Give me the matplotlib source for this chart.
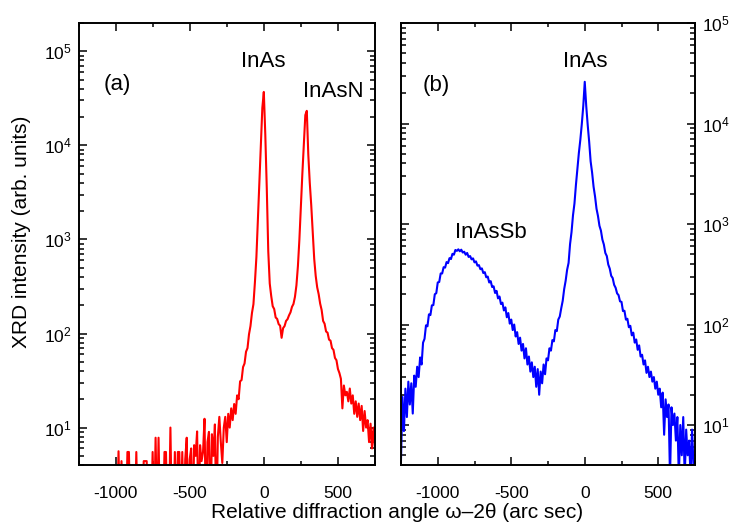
import numpy as np
import matplotlib
matplotlib.use("Agg")
import matplotlib.pyplot as plt
from matplotlib.ticker import MultipleLocator, LogLocator, NullFormatter, LogFormatterSciNotation

plt.rcParams['font.family'] = ['Liberation Sans', 'DejaVu Sans']
plt.rcParams['mathtext.fontset'] = 'custom'
plt.rcParams['mathtext.rm'] = 'Liberation Sans'

# scan positions (arc sec), common to both scans
angle = np.arange(-1250, 751, 10)

# (a) InAs / InAsN scan, intensity in counts (values below 4 fall off the axis)
intensity_a = [
    1, 1, 1, 1, 1, 1, 1, 1, 1, 1,
    1, 1, 1, 1, 1, 1, 1, 1, 1, 1,
    1, 1, 1, 1, 1, 1, 1, 5.6, 1, 4.4,
    1, 1, 1, 5.5, 5.5, 1, 1, 1, 1, 5.5,
    1, 1, 1, 1, 4.4, 4.4, 4.4, 1, 1, 1,
    5.5, 1, 7.8, 1, 7.8, 1, 1, 1, 5.5, 5.5,
    1, 1, 10, 1, 1, 5.5, 1, 5.5, 5.5, 1,
    5.5, 1, 4.6, 7.8, 1, 4.6, 6.0, 1, 6.5, 5.0,
    9.1, 1, 6.5, 4.4, 5.5, 12.4, 1, 7.0, 9.0, 1,
    8.5, 5.0, 10.8, 1, 8.0, 13, 7.0, 4.2, 10, 13,
    7, 14, 10, 16, 12, 17.8, 14, 22, 20, 31,
    32, 44, 48, 64, 70, 98, 120, 165, 205, 350,
    650, 1600, 3800, 10000, 25000, 37000, 13000, 3500, 750, 340,
    250, 195, 182, 148, 143, 126, 121, 90, 114, 120,
    136, 142, 156, 168, 192, 206, 245, 325, 520, 1000,
    2200, 5000, 10000, 21000, 23300, 8000, 4000, 2300, 1200, 620,
    410, 310, 262, 208, 178, 136, 127, 105, 102, 86,
    84, 70, 67, 55, 52, 42, 38, 33, 16, 28,
    22, 24, 19, 26, 18, 22, 14, 19, 13, 18,
    12, 17, 9.2, 15, 10, 12, 7, 11, 6, 10,
    6.2,
]

# (b) InAs / InAsSb scan
intensity_b = [
    4.5, 19, 8.7, 23, 12, 27, 16, 26, 13, 31,
    24, 38, 30, 47, 40, 66, 72, 98, 96, 126,
    124, 155, 156, 200, 205, 262, 265, 322, 322, 372,
    368, 418, 408, 458, 448, 505, 495, 552, 540, 560,
    535, 555, 520, 530, 495, 515, 470, 480, 445, 455,
    415, 425, 385, 390, 355, 362, 325, 332, 295, 300,
    262, 270, 236, 240, 206, 216, 182, 190, 160, 165,
    138, 148, 118, 130, 102, 112, 88, 100, 76, 84,
    64, 74, 55, 64, 46, 58, 40, 48, 34, 42,
    30, 38, 24, 36, 20, 34, 26, 40, 32, 46,
    44, 58, 55, 70, 68, 88, 86, 112, 120, 145,
    172, 225, 272, 350, 410, 630, 830, 1220, 1600, 2450,
    3500, 5100, 6900, 9900, 15000, 26000, 15000, 9700, 6600, 4200,
    3250, 2350, 1880, 1420, 1200, 960, 860, 700, 625, 515,
    480, 395, 360, 305, 290, 248, 232, 204, 196, 170,
    168, 136, 137, 112, 114, 94, 97, 78, 83, 66,
    71, 56, 62, 48, 50, 40, 44, 33, 38, 30,
    34, 27, 30, 23, 27, 20, 23, 15, 21, 8,
    18, 12, 16, 3, 15, 10, 13, 7, 12, 3,
    10, 5, 12, 3, 9, 5, 7, 3, 9, 4,
    3,
]

x_ticks = [-1000, -500, 0, 500]

fig = plt.figure(figsize=(7.29, 5.26), dpi=100)
W, H = 729.0, 526.0
ax_a = fig.add_axes([78.5 / W, 61 / H, 296.5 / W, 442 / H])
ax_b = fig.add_axes([401 / W, 61 / H, 294 / W, 442 / H])

ax_a.plot(angle, intensity_a, color='#ff0000', lw=1.5)
ax_b.plot(angle, intensity_b, color='#0000ff', lw=1.5)

for ax, ymax in ((ax_a, 2e5), (ax_b, 1e5)):
    ax.set_yscale('log')
    ax.set_xlim(-1250, 750)
    ax.set_ylim(4, ymax)
    ax.set_xticks(x_ticks)
    ax.set_xticklabels([str(t) for t in x_ticks])
    ax.xaxis.set_minor_locator(MultipleLocator(250))
    ax.yaxis.set_major_locator(LogLocator(base=10))
    ax.yaxis.set_major_formatter(LogFormatterSciNotation())
    ax.yaxis.set_minor_locator(LogLocator(base=10, subs=np.arange(2, 10)))
    ax.yaxis.set_minor_formatter(NullFormatter())
    ax.tick_params(which='both', direction='in', top=True, right=True,
                   width=1.1, labelsize=12.5)
    ax.tick_params(axis='x', which='major', length=6, pad=15)
    ax.tick_params(axis='x', which='minor', length=3)
    ax.tick_params(axis='y', which='major', length=6, pad=5)
    ax.tick_params(axis='y', which='minor', length=3.5)
    for sp in ax.spines.values():
        sp.set_linewidth(1.4)

ax_a.tick_params(axis='y', labelleft=True, labelright=False)
ax_b.tick_params(axis='y', labelleft=False, labelright=True)

ax_a.text(-990, 4.4e4, '(a)', fontsize=16, ha='center', va='center')
ax_a.text(-5, 7.7e4, 'InAs', fontsize=16, ha='center', va='center')
ax_a.text(467, 3.7e4, 'InAsN', fontsize=16, ha='center', va='center')

ax_b.text(-1012, 2.4e4, '(b)', fontsize=16, ha='center', va='center')
ax_b.text(2, 4.1e4, 'InAs', fontsize=16, ha='center', va='center')
ax_b.text(-638, 825, 'InAsSb', fontsize=16, ha='center', va='center')

fig.text(397 / W, 1 - 513 / H, 'Relative diffraction angle ω–2θ (arc sec)',
         fontsize=15, ha='center', va='center')
fig.text(22 / W, 1 - 232 / H, 'XRD intensity (arb. units)',
         fontsize=15, ha='center', va='center', rotation=90)

fig.savefig('out.png', dpi=100)
